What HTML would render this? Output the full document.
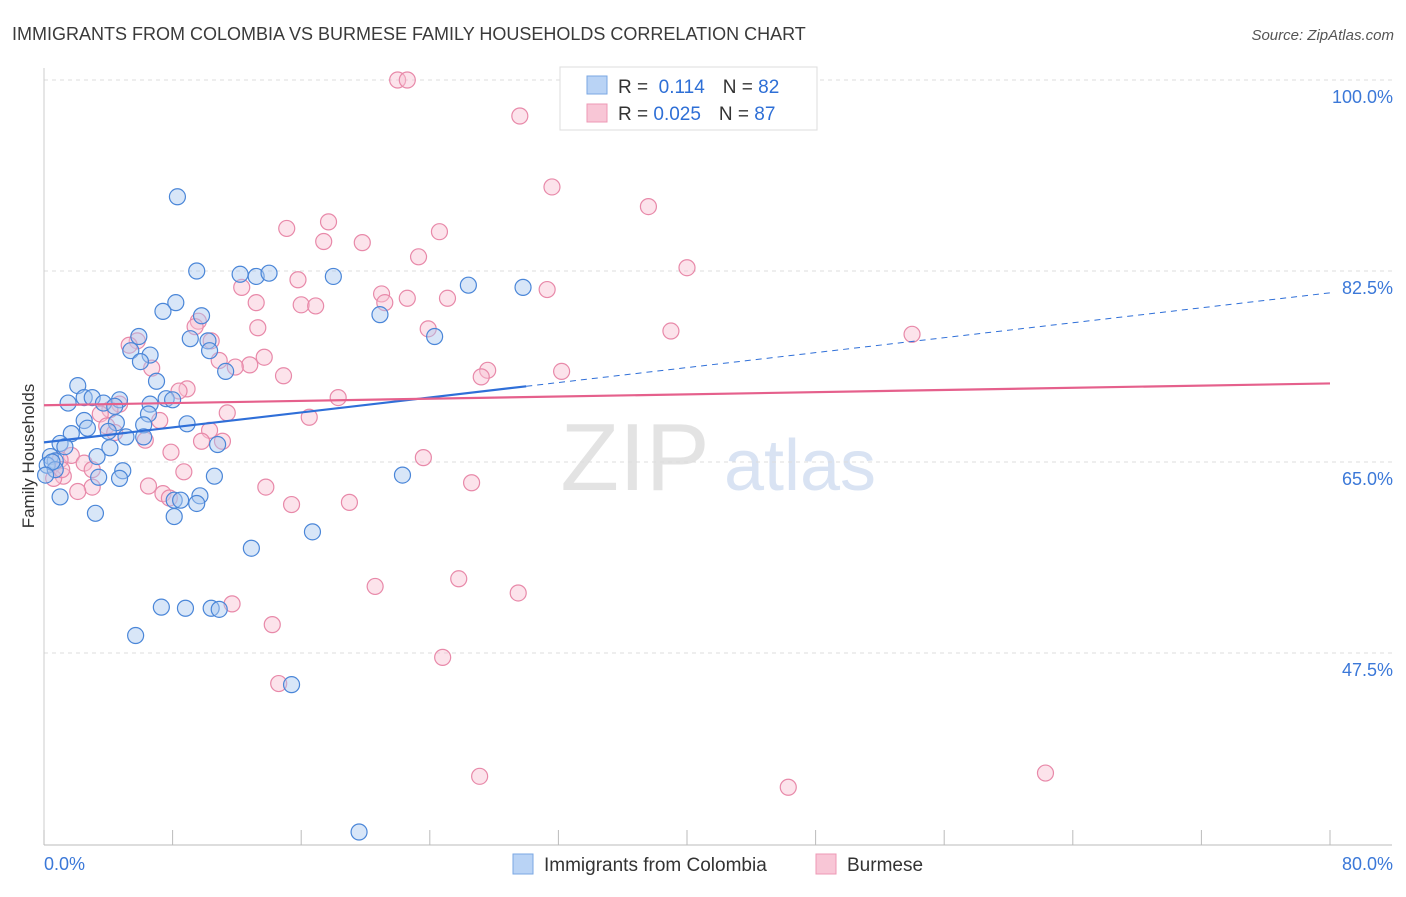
<!DOCTYPE html>
<html><head><meta charset="utf-8"><style>
body{margin:0;background:#fff;font-family:"Liberation Sans",sans-serif;}
svg text{font-family:"Liberation Sans",sans-serif;}
</style></head><body>
<svg id="chart" width="1406" height="892" xmlns="http://www.w3.org/2000/svg">
<text x="12" y="40" font-size="18" fill="#3a3a3a">IMMIGRANTS FROM COLOMBIA VS BURMESE FAMILY HOUSEHOLDS CORRELATION CHART</text>
<text x="1394" y="40" font-size="15" fill="#555" text-anchor="end" font-style="italic">Source: ZipAtlas.com</text>
<text transform="translate(34,456) rotate(-90)" font-size="17" fill="#333" text-anchor="middle">Family Households</text>
<g>
<text x="635" y="490" font-size="96" fill="#d8d8d8" text-anchor="middle" font-family="Liberation Serif" opacity="0.7">ZIP</text>
<text x="800" y="490" font-size="72" fill="#c9d8ef" text-anchor="middle" opacity="0.7">atlas</text>
</g>
<g id="grid"></g><g id="axes"></g><g id="pts"></g><g id="trends"></g>
<g>
<rect x="560" y="67" width="257" height="63" fill="#fff" stroke="#ddd"/>
<rect x="587" y="76" width="20" height="18" fill="#b9d3f5" stroke="#7aa7e3"/>
<rect x="587" y="104" width="20" height="18" fill="#f8c6d6" stroke="#ee98b5"/>
<text x="618" y="93" font-size="19" fill="#333">R = <tspan fill="#2e6fd6">&#160;0.114</tspan><tspan dx="18">N = </tspan><tspan fill="#2e6fd6">82</tspan></text>
<text x="618" y="120" font-size="19" fill="#333">R = <tspan fill="#2e6fd6">0.025</tspan><tspan dx="18">N = </tspan><tspan fill="#2e6fd6">87</tspan></text>
</g>
<g>
<rect x="513" y="854" width="20" height="20" fill="#b9d3f5" stroke="#7aa7e3"/>
<text x="544" y="871" font-size="19" fill="#333">Immigrants from Colombia</text>
<rect x="816" y="854" width="20" height="20" fill="#f8c6d6" stroke="#ee98b5"/>
<text x="847" y="871" font-size="19" fill="#333">Burmese</text>
</g>
</svg>
<script>
const yTicks=[100,82.5,65,47.5];
const yTickLabels=["100.0%","82.5%","65.0%","47.5%"];
const blueX=[8.3,9.5,12.2,13.2,14.0,18.0,26.4,29.8,20.9,24.3,8.2,7.4,9.8,5.9,9.1,10.2,10.3,5.4,6.6,6.0,11.3,7.0,2.1,1.5,2.5,3.0,4.7,3.7,4.4,6.6,7.6,8.0,6.5,2.5,4.5,6.2,8.9,2.7,1.7,4.0,5.1,6.2,1.0,1.3,4.1,10.8,3.3,0.4,0.7,0.2,0.7,4.9,3.4,4.7,10.6,22.3,1.0,3.2,8.1,8.5,9.7,9.5,8.1,16.7,12.9,7.3,8.8,10.4,10.9,5.7,15.4,19.6,0.5,0.1];
const blueY=[89.3,82.5,82.2,82.0,82.3,82.0,81.2,81.0,78.5,76.5,79.6,78.8,78.4,76.5,76.3,76.1,75.2,75.2,74.8,74.2,73.3,72.4,72.0,70.4,70.9,70.9,70.7,70.4,70.1,70.3,70.8,70.7,69.4,68.8,68.6,68.4,68.5,68.1,67.6,67.8,67.3,67.3,66.7,66.4,66.3,66.6,65.5,65.5,65.1,64.7,64.3,64.2,63.6,63.5,63.7,63.8,61.8,60.3,61.5,61.5,61.9,61.2,60.0,58.6,57.1,51.7,51.6,51.6,51.5,49.1,44.6,31.1,65.0,63.8];
const pinkX=[22.0,22.6,29.6,31.6,37.6,17.7,15.1,24.6,17.4,19.8,23.3,40.0,15.8,12.3,21.0,22.6,25.1,31.3,21.2,16.0,16.9,13.2,9.6,9.4,13.3,23.9,39.0,54.0,10.4,5.8,5.3,13.7,10.9,12.8,11.9,6.7,27.6,32.2,14.9,27.2,8.9,8.4,18.3,4.7,4.1,3.5,11.4,16.5,7.2,3.9,10.3,4.4,6.3,9.8,11.1,7.9,23.6,1.7,1.0,2.5,3.0,1.2,0.6,8.7,6.5,3.0,13.8,26.6,2.1,7.4,7.8,15.4,19.0,25.8,20.6,29.5,11.7,14.2,24.8,14.6,27.1,46.3,62.3,1.1];
const pinkY=[100,100,96.7,90.2,88.4,87.0,86.4,86.1,85.2,85.1,83.8,82.8,81.7,81.0,80.4,80.0,80.0,80.8,79.6,79.4,79.3,79.6,77.9,77.4,77.3,77.2,77.0,76.7,76.1,76.1,75.7,74.6,74.3,73.9,73.7,73.6,73.4,73.3,72.9,72.8,71.7,71.5,70.9,70.3,69.8,69.4,69.5,69.1,68.8,68.3,67.9,67.7,67.0,66.9,66.9,65.9,65.4,65.6,65.2,64.9,64.3,63.7,63.5,64.1,62.8,62.7,62.7,63.1,62.3,62.1,61.7,61.1,61.3,54.3,53.6,53.0,52.0,50.1,47.1,44.7,36.2,35.2,36.5,64.3];
const blueTrend=[66.8,80.5];
const pinkTrend=[70.2,72.2];
const NS="http://www.w3.org/2000/svg";
const xs=v=>44+v/80*1286;
const ys=v=>80+(100-v)/17.5*191;
function mk(tag,attrs,parent){const e=document.createElementNS(NS,tag);for(const k in attrs)e.setAttribute(k,attrs[k]);document.getElementById(parent).appendChild(e);return e;}
yTicks.forEach((t,i)=>{
 const l=mk('line',{x1:44,x2:1392,y1:ys(t),y2:ys(t),stroke:'#ddd','stroke-dasharray':'4,4'},'grid');
 
 
 const tx=mk('text',{x:1393,y:ys(t)+23,'font-size':18,fill:'#3b78d8','text-anchor':'end'},'grid');
 tx.textContent=yTickLabels[i];
 
 
});
const ax=mk('line',{x1:44,x2:1392,y1:845,y2:845,stroke:'#bbb'},'axes');


const ay=mk('line',{x1:44,x2:44,y1:68,y2:845,stroke:'#ccc'},'axes');


for(let i=0;i<=10;i++){const t=mk('line',{x1:xs(i*8),x2:xs(i*8),y1:830,y2:845,stroke:'#bbb'},'axes');
 
 }
const x0=mk('text',{x:44,y:870,'font-size':18,fill:'#3b78d8'},'axes');x0.textContent='0.0%';


const x1=mk('text',{x:1393,y:870,'font-size':18,fill:'#3b78d8','text-anchor':'end'},'axes');x1.textContent='80.0%';


function dots(X,Y,fill,stroke,name){X.forEach((x,i)=>{const c=mk('circle',{cx:xs(x),cy:ys(Y[i]),r:8,fill:fill,'fill-opacity':0.45,stroke:stroke,'stroke-width':1.2},'pts');
 
 });}
dots(pinkX,pinkY,'#f8c0d2','#e889a9','burmese-point');
dots(blueX,blueY,'#a9c8f0','#4a86d8','colombia-point');
const bAt=x=>blueTrend[0]+(blueTrend[1]-blueTrend[0])*x/80;
const b1=mk('line',{x1:xs(0),y1:ys(bAt(0)),x2:xs(30),y2:ys(bAt(30)),stroke:'#2f6fd8','stroke-width':2.2},'trends');


const b2=mk('line',{x1:xs(30),y1:ys(bAt(30)),x2:xs(80),y2:ys(bAt(80)),stroke:'#2f6fd8','stroke-width':1,'stroke-dasharray':'6,5'},'trends');


const p1=mk('line',{x1:xs(0),y1:ys(pinkTrend[0]),x2:xs(80),y2:ys(pinkTrend[1]),stroke:'#e5608c','stroke-width':2.2},'trends');


</script>
</body></html>
